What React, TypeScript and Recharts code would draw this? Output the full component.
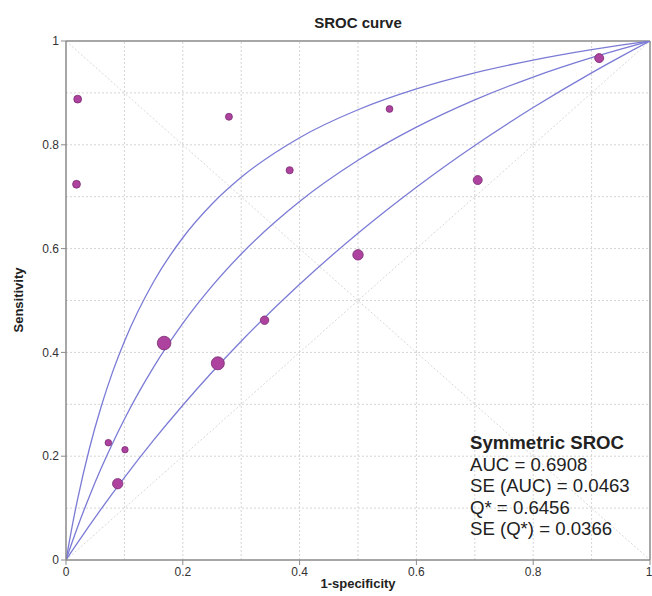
import React from "react";
import {
  ComposedChart,
  XAxis,
  YAxis,
  ZAxis,
  Line,
  Scatter,
  ReferenceLine,
} from "recharts";

// Study points: 1-specificity (x), sensitivity (y), relative weight (w)
const studyFpr = [0.02, 0.018, 0.279, 0.383, 0.554, 0.913, 0.705, 0.5, 0.34, 0.168, 0.26, 0.0725, 0.101, 0.0885];
const studySens = [0.888, 0.724, 0.854, 0.751, 0.869, 0.967, 0.732, 0.588, 0.462, 0.418, 0.379, 0.226, 0.2125, 0.147];
const studyWeight = [4.8, 4.8, 3.8, 4.0, 3.6, 6.4, 6.4, 8.6, 5.6, 14.6, 13.4, 3.4, 3.2, 8.4];

// Curves
const curveFpr = [0, 0.01, 0.02, 0.04, 0.06, 0.08, 0.1, 0.15, 0.2, 0.25, 0.3, 0.4, 0.5, 0.6, 0.7, 0.8, 0.9, 0.95, 1];
const upperSens = [0, 0.0621, 0.1179, 0.2144, 0.2948, 0.3629, 0.4212, 0.5362, 0.6209, 0.6859, 0.7373, 0.8137, 0.8675, 0.9076, 0.9386, 0.9632, 0.9833, 0.992, 1];
const middleSens = [0, 0.0327, 0.064, 0.1225, 0.1762, 0.2256, 0.2713, 0.3715, 0.4558, 0.5276, 0.5895, 0.6907, 0.7701, 0.834, 0.8866, 0.9306, 0.9679, 0.9845, 1];
const lowerSens = [0, 0.0169, 0.0335, 0.0661, 0.0979, 0.1288, 0.1589, 0.2308, 0.2982, 0.3617, 0.4215, 0.5312, 0.6296, 0.7183, 0.7987, 0.8718, 0.9387, 0.97, 1];

const axisTicks = [0, 0.2, 0.4, 0.6, 0.8, 1];
const gridValues = [0.1, 0.2, 0.3, 0.4, 0.5, 0.6, 0.7, 0.8, 0.9];

const statsTitle = "Symmetric SROC";
const statsLines = ["AUC = 0.6908", "SE (AUC) = 0.0463", "Q* = 0.6456", "SE (Q*) = 0.0366"];

const studies = studyFpr.map((x, i) => ({ x, y: studySens[i], w: studyWeight[i] }));
const mk = (ys: number[]) => curveFpr.map((x, i) => ({ x, y: ys[i] }));
const upper = mk(upperSens);
const middle = mk(middleSens);
const lower = mk(lowerSens);

const FONT = "'Liberation Sans', Arial, sans-serif";
const CURVE = "#7b7bd6";
const GRID = "#d4d4d4";
const AXIS = "#8a8a8a";

export default function App() {
  return (
    <div style={{ position: "relative", width: 652, height: 596, fontFamily: FONT, background: "#fff" }}>
      <style>{`body{margin:0;}`}</style>
      <ComposedChart
        width={652}
        height={596}
        margin={{ top: 41, right: 2, bottom: 6, left: 6 }}
      >
        <XAxis
          type="number"
          dataKey="x"
          domain={[0, 1]}
          ticks={axisTicks}
          allowDataOverflow
          height={30}
          tickSize={5}
          tick={{ fontSize: 12, fill: "#333", fontFamily: FONT }}
          axisLine={{ stroke: AXIS, strokeWidth: 1.5 }}
          tickLine={{ stroke: AXIS }}
        />
        <YAxis
          type="number"
          dataKey="y"
          domain={[0, 1]}
          ticks={axisTicks}
          allowDataOverflow
          width={60}
          tickSize={5}
          tick={{ fontSize: 12, fill: "#333", fontFamily: FONT }}
          axisLine={{ stroke: AXIS, strokeWidth: 1.5 }}
          tickLine={{ stroke: AXIS }}
        />
        <ZAxis type="number" dataKey="w" domain={[0, 16]} range={[0, 160]} />
        {gridValues.map((v) => (
          <ReferenceLine key={"gx" + v} x={v} stroke={GRID} strokeDasharray="2 2" />
        ))}
        {gridValues.map((v) => (
          <ReferenceLine key={"gy" + v} y={v} stroke={GRID} strokeDasharray="2 2" />
        ))}
        <ReferenceLine
          segment={[{ x: 0, y: 0 }, { x: 1, y: 1 }]}
          stroke="#d8d8d8"
          strokeDasharray="2 2"
        />
        <ReferenceLine
          segment={[{ x: 0, y: 1 }, { x: 1, y: 0 }]}
          stroke="#d8d8d8"
          strokeDasharray="2 2"
        />
        <ReferenceLine x={1} stroke={AXIS} strokeWidth={1.5} />
        <ReferenceLine y={1} stroke={AXIS} strokeWidth={1.5} />
        <Line data={upper} dataKey="y" type="monotone" stroke={CURVE} strokeWidth={1.3} dot={false} isAnimationActive={false} />
        <Line data={middle} dataKey="y" type="monotone" stroke={CURVE} strokeWidth={1.3} dot={false} isAnimationActive={false} />
        <Line data={lower} dataKey="y" type="monotone" stroke={CURVE} strokeWidth={1.3} dot={false} isAnimationActive={false} />
        <Scatter
          data={studies}
          dataKey="y"
          fill="#ad439f"
          stroke="#7a2b72"
          strokeWidth={0.8}
          isAnimationActive={false}
        />
      </ComposedChart>

      <div style={{ position: "absolute", left: 0, width: 716, top: 14, textAlign: "center", fontSize: 15, fontWeight: "bold", color: "#222" }}>
        SROC curve
      </div>
      <div style={{ position: "absolute", left: 0, width: 716, top: 576, textAlign: "center", fontSize: 13, fontWeight: "bold", color: "#222" }}>
        1-specificity
      </div>
      <div
        style={{
          position: "absolute",
          left: 18,
          top: 300,
          transform: "translate(-50%, -50%) rotate(-90deg)",
          fontSize: 13,
          fontWeight: "bold",
          color: "#222",
          whiteSpace: "nowrap",
        }}
      >
        Sensitivity
      </div>
      <div style={{ position: "absolute", left: 470, top: 432, fontSize: 18.6, lineHeight: "21.5px", color: "#222" }}>
        <div style={{ fontWeight: "bold" }}>{statsTitle}</div>
        {statsLines.map((s) => (
          <div key={s}>{s}</div>
        ))}
      </div>
    </div>
  );
}
